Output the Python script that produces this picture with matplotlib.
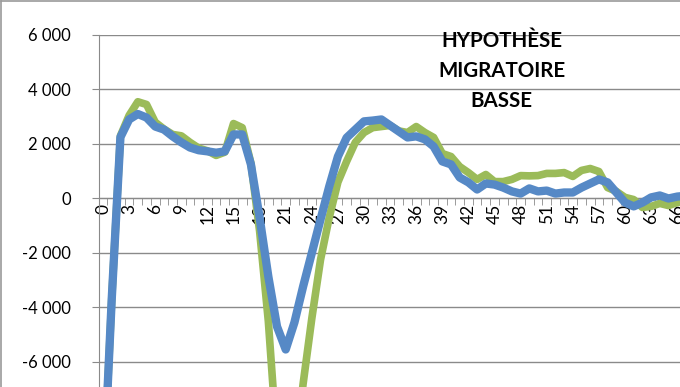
import matplotlib.pyplot as plt
from matplotlib.ticker import FuncFormatter, FixedLocator

# ages 0..67 (category axis)
ages = list(range(68))

green = [-10600, -3700, 2300, 3050, 3550, 3450, 2800, 2550, 2350, 2300,
         2060, 1850, 1750, 1580, 1700, 2750, 2600, 1300, -1200, -4500,
         -9000, -10000, -9500, -6800, -4400, -2250, -700, 600, 1360, 2060,
         2420, 2600, 2640, 2680, 2480, 2420, 2640, 2420, 2240, 1650,
         1540, 1170, 950, 700, 880, 620, 620, 700, 840, 830,
         840, 920, 920, 950, 810, 1030, 1100, 990, 400, 260,
         40, -40, -330, -290, -180, -260, -150, -100]

blue = [-10600, -3700, 2250, 2900, 3100, 2970, 2640, 2530, 2280, 2060,
        1870, 1770, 1730, 1680, 1730, 2350, 2350, 1250, -700, -2860,
        -4700, -5540, -4550, -3230, -2000, -770, 440, 1540, 2230, 2530,
        2830, 2860, 2900, 2680, 2460, 2240, 2280, 2170, 1910, 1360,
        1250, 770, 590, 330, 550, 510, 400, 260, 180, 370,
        260, 290, 180, 220, 220, 400, 550, 700, 590, 220,
        -150, -290, -150, 40, 110, 0, 70, 100]

yticks = [-6000, -4000, -2000, 0, 2000, 4000, 6000]
title = "HYPOTHÈSE\nMIGRATOIRE\nBASSE"

plt.rcParams['font.family'] = ['Lato', 'DejaVu Sans']

fig = plt.figure(figsize=(6.8, 3.87), dpi=100)
ax = fig.add_axes([0.1451, -0.0762, 0.8549, 0.9858])

grid_c = '#8a8a8a'
ax.plot(ages, green, color='#9bbb59', lw=5.5, solid_joinstyle='round', zorder=3)
ax.plot(ages, blue, color='#5689c6', lw=6, solid_joinstyle='round', zorder=4)

ax.set_xlim(-0.5, 66.32)
ax.set_ylim(-8000, 6000)

ax.set_yticks(yticks)
ax.yaxis.set_major_formatter(FuncFormatter(lambda v, p: f"{int(v):,}".replace(",", " ")))
ax.yaxis.grid(True, color=grid_c, lw=1)
ax.tick_params(axis='y', length=5, color=grid_c, pad=15, labelsize=12)

ax.set_xticks(ages[::3])
ax.set_xticklabels([str(a) for a in ages[::3]])
ax.xaxis.set_minor_locator(FixedLocator([a - 0.5 for a in ages]))
ax.tick_params(axis='x', which='major', length=0, pad=4, labelsize=12.5,
               labelrotation=90)
ax.tick_params(axis='x', which='minor', length=5, color=grid_c)

for s in ['top', 'right']:
    ax.spines[s].set_visible(False)
ax.spines['bottom'].set_position(('data', 0))
ax.spines['bottom'].set_color(grid_c)
ax.spines['left'].set_color(grid_c)
ax.set_axisbelow(True)

fig.text(0.738, 0.8165, title, ha='center', va='center', fontsize=14.8,
         fontweight='bold', linespacing=1.6, multialignment='center')

# outer chart border (visible top and left)
fig.add_artist(plt.Line2D([0.002, 1], [0.997, 0.997], color='#9a9a9a', lw=1.2))
fig.add_artist(plt.Line2D([0.002, 0.002], [0, 0.997], color='#9a9a9a', lw=1.2))

fig.savefig('out.png', dpi=100)
